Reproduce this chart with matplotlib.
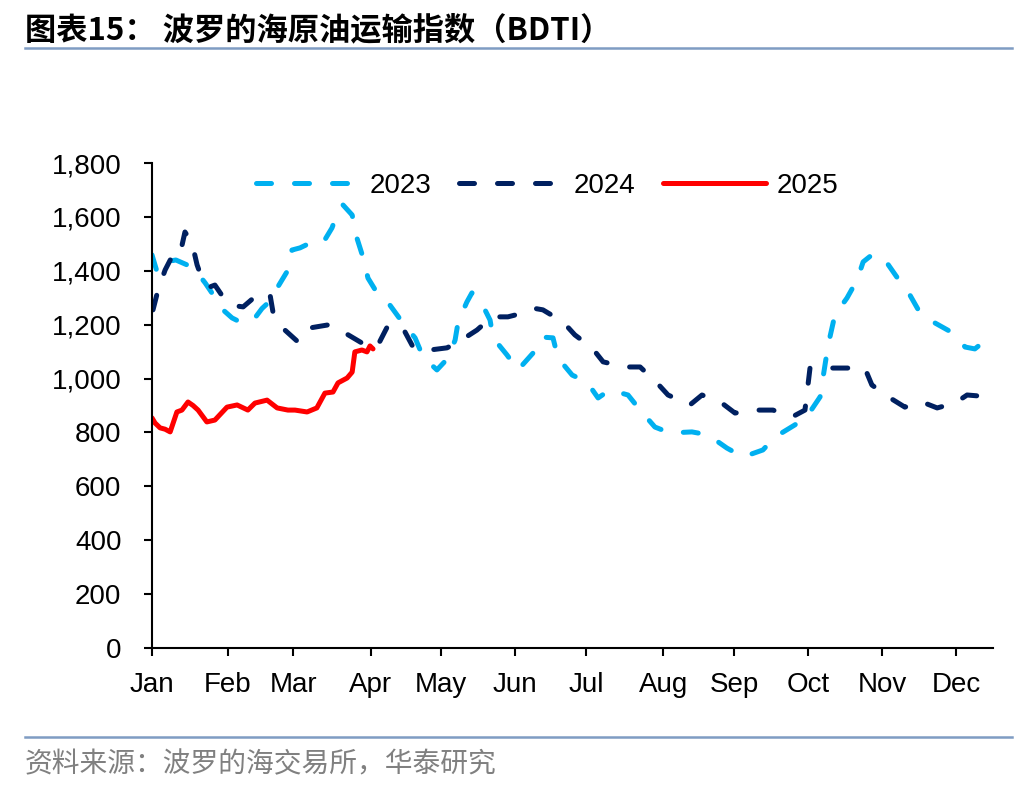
import numpy as np
import matplotlib
matplotlib.use("Agg")
import matplotlib.pyplot as plt
from matplotlib.ticker import FuncFormatter
from matplotlib.lines import Line2D

plt.rcParams['font.family'] = ['Liberation Sans', 'Noto Sans CJK SC', 'DejaVu Sans']

# x positions are trading-day index within the year
months = ["Jan", "Feb", "Mar", "Apr", "May", "Jun", "Jul", "Aug", "Sep", "Oct", "Nov", "Dec"]
month_start = [0, 22.6, 42, 65, 86, 108, 129, 152, 173, 195, 217, 239]

x23 = [0, 1.5, 3.9, 7.1, 10.4, 12.8, 15.8, 17.8, 21.1, 23.8, 26.2, 28.5, 30.6, 32.7, 34.5, 37.2,
       40.1, 41.6, 44.0, 47.0, 50.8, 53.5, 55.3, 56.8, 59.5, 60.9, 62.7, 64.2, 66.9, 70.7, 74.6,
       78.2, 80.6, 84.7, 88.0, 90.1, 91.0, 93.6, 95.1, 97.5, 100.5, 101.4, 105.5, 108.8, 113.3,
       115.9, 119.2, 120.7, 124.9, 129.3, 132.6, 136.1, 141.5, 145.1, 149.5, 154.0, 160.5, 165.3,
       170.9, 175.7, 181.6, 185.2, 191.1, 195.0, 198.6, 199.5, 201.0, 203.0, 206.6, 209.6, 211.4,
       214.0, 216.4, 218.5, 222.4, 225.3, 228.3, 232.8, 238.1, 241.7, 244.6, 247.6, 249.1]
v23 = [1459, 1396, 1433, 1440, 1422, 1403, 1355, 1318, 1255, 1225, 1210, 1206, 1225, 1260, 1281, 1336,
       1396, 1477, 1485, 1503, 1503, 1559, 1620, 1644, 1607, 1522, 1451, 1373, 1318, 1273, 1206,
       1151, 1080, 1032, 1076, 1143, 1210, 1284, 1318, 1292, 1217, 1151, 1088, 1032, 1095,
       1154, 1151, 1076, 1013, 987, 928, 958, 939, 883, 820, 798, 802, 791,
       742, 709, 735, 783, 828, 865, 932, 1006, 1125, 1236, 1299, 1366, 1433,
       1459, 1455, 1429, 1359, 1310, 1244, 1206, 1169, 1117, 1110, 1140, 1169]

x24 = [0.3, 1.8, 3.9, 6.2, 8.3, 9.8, 11.9, 13.4, 15.2, 17.2, 18.7, 21.7, 24.7, 27.1, 31.2, 33.6,
       35.1, 36.0, 39.5, 43.4, 47.0, 52.3, 57.4, 62.4, 64.8, 67.2, 69.9, 72.2, 75.2, 77.6, 82.6,
       87.7, 90.1, 93.0, 96.6, 101.1, 105.8, 111.5, 113.9, 116.2, 122.2, 125.7, 130.8, 134.1,
       140.6, 145.1, 150.1, 153.4, 159.9, 163.5, 169.4, 173.3, 179.8, 184.6, 190.2, 194.1, 195.0,
       195.6, 200.1, 205.4, 211.9, 214.0, 219.4, 223.8, 228.9, 233.4, 238.7, 242.3, 246.1, 249.1]
v24 = [1255, 1329, 1403, 1459, 1460, 1544, 1503, 1422, 1359, 1340, 1347, 1292, 1270, 1266, 1310, 1320,
       1310, 1244, 1180, 1136, 1188, 1199, 1169, 1132, 1115, 1125, 1191, 1205, 1173, 1117, 1106,
       1114, 1130, 1151, 1180, 1229, 1229, 1247, 1260, 1255, 1210, 1162, 1114, 1062,
       1043, 1043, 984, 939, 902, 939, 909, 872, 883, 883, 857, 883, 976,
       1039, 1039, 1039, 1039, 976, 928, 894, 913, 891, 909, 939, 935, 920]

x25 = [0, 0.9, 2.4, 3.9, 5.4, 7.4, 8.9, 10.7, 12.2, 13.7, 16.3, 18.7, 22.3, 25.3, 28.5, 30.6,
       34.2, 37.2, 40.4, 42.5, 46.1, 49.0, 51.4, 53.8, 55.3, 58.0, 59.5, 60.3, 62.4, 63.9, 64.8, 65.7]
v25 = [854, 835, 817, 812, 802, 876, 883, 913, 900, 883, 839, 846, 894, 902, 883, 909,
       920, 891, 883, 883, 876, 891, 946, 950, 984, 1002, 1024, 1099, 1106, 1099, 1121, 1110]

C23, C24, C25 = "#00B0F0", "#002060", "#FF0000"
LW = 3.6

fig = plt.figure(figsize=(10.36, 7.92), dpi=100)
ax = fig.add_axes([152/1036, 1 - 648/792, (993 - 152)/1036, (648 - 163)/792])

ax.plot(x23, v23, color=C23, lw=LW, dashes=(3.0, 4.6), dash_capstyle="round", solid_capstyle="round", label="2023")
ax.plot(x24, v24, color=C24, lw=LW, dashes=(3.0, 4.6), dash_capstyle="round", solid_capstyle="round", label="2024")
ax.plot(x25, v25, color=C25, lw=LW, solid_capstyle="round", solid_joinstyle="round", label="2025")

ax.set_xlim(0, 250)
ax.set_ylim(0, 1800)
ax.set_yticks(np.arange(0, 1801, 200))
ax.yaxis.set_major_formatter(FuncFormatter(lambda v, p: f"{int(v):,}"))
ax.set_xticks(month_start)
ax.set_xticklabels(months)
for s in ("top", "right"):
    ax.spines[s].set_visible(False)
for s in ("left", "bottom"):
    ax.spines[s].set_linewidth(1.5)
ax.tick_params(axis="both", direction="out", length=6, width=1.5, labelsize=20)
ax.tick_params(axis="y", pad=16)
ax.tick_params(axis="x", pad=11)

ax.legend(loc="center", bbox_to_anchor=(0.47, 0.953), ncol=3, frameon=False, fontsize=20,
          handlelength=3.7, handletextpad=0.4, columnspacing=1.0)

# title, separators, source
fig.text(25/1036, 1 - 30/792, "图表15： 波罗的海原油运输指数（BDTI）", fontsize=22.5, fontweight="bold",
         family=["Noto Sans CJK SC"], va="center", ha="left")
fig.add_artist(Line2D([25/1036, 1012/1036], [1 - 48/792] * 2, color="#7F9CC3", lw=1.8))
fig.add_artist(Line2D([25/1036, 1012/1036], [1 - 737/792] * 2, color="#7F9CC3", lw=1.8))
fig.text(25/1036, 1 - 764/792, "资料来源：波罗的海交易所，华泰研究", fontsize=20, color="#808080",
         family=["Noto Sans CJK SC"], va="center", ha="left")

fig.savefig("out.png", dpi=100)
